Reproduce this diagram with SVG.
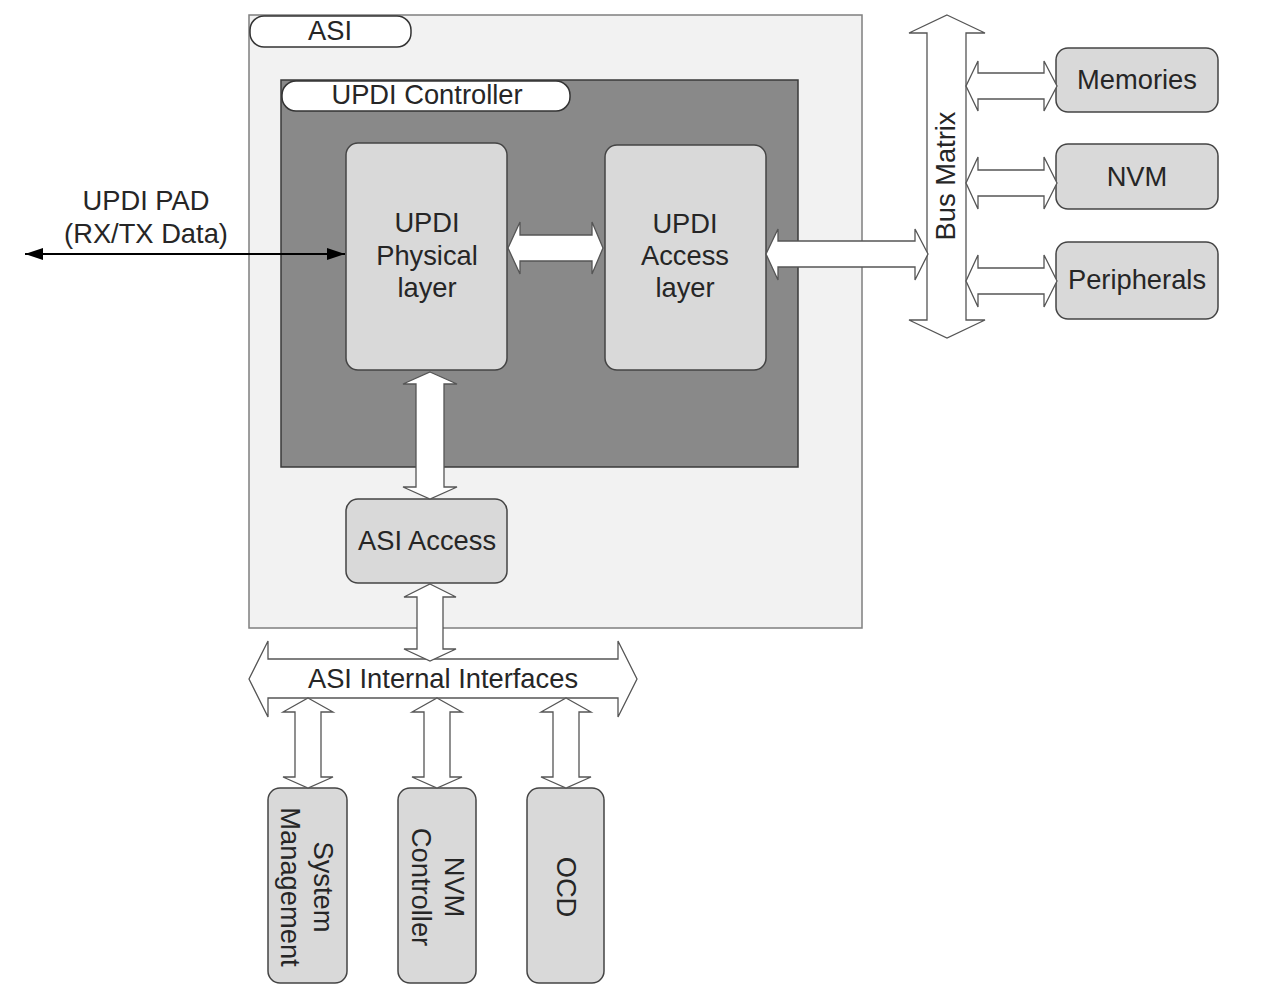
<svg xmlns="http://www.w3.org/2000/svg" width="1280" height="1004" viewBox="0 0 1280 1004">
<style>
  text { font-family: "Liberation Sans", Arial, sans-serif; font-size: 27.3px; fill: #262626; }
  .c { text-anchor: middle; }
  .box { fill: #d9d9d9; stroke: #444; stroke-width: 1.5; }
  .pill { fill: #fff; stroke: #333; stroke-width: 1.5; }
  .fat { fill: #fff; stroke: #555; stroke-width: 1.3; stroke-linejoin: miter; }
</style>
<defs>
  <marker id="ah" markerWidth="18" markerHeight="12" refX="18" refY="6" orient="auto-start-reverse" markerUnits="userSpaceOnUse">
    <path d="M0,0 L18,6 L0,12 Z" fill="#000"/>
  </marker>
</defs>
<rect width="1280" height="1004" fill="#fff"/>

<g id="asi">
  <rect x="249" y="15" width="613" height="613" fill="#f2f2f2" stroke="#7f7f7f" stroke-width="1.5"/>
  <rect class="pill" x="250" y="16" width="161" height="31" rx="14"/>
  <text class="c" x="330" y="40">ASI</text>
</g>

<g id="updi-controller">
  <rect x="281" y="80" width="517" height="387" fill="#898989" stroke="#3a3a3a" stroke-width="1.5"/>
  <rect class="pill" x="282" y="81" width="288" height="30" rx="14"/>
  <text class="c" x="427" y="104">UPDI Controller</text>
</g>

<g id="updi-physical">
  <rect class="box" x="346" y="143" width="161" height="227" rx="12"/>
  <text class="c" x="427"><tspan x="427" y="232">UPDI</tspan><tspan x="427" y="265">Physical</tspan><tspan x="427" y="297">layer</tspan></text>
</g>

<g id="updi-access">
  <rect class="box" x="605" y="145" width="161" height="225" rx="12"/>
  <text class="c" x="685"><tspan x="685" y="233">UPDI</tspan><tspan x="685" y="265">Access</tspan><tspan x="685" y="297">layer</tspan></text>
</g>

<g id="asi-access">
  <rect class="box" x="346" y="499" width="161" height="84" rx="12"/>
  <text class="c" x="427" y="550">ASI Access</text>
</g>

<g id="memories">
  <rect class="box" x="1056" y="48" width="162" height="64" rx="12"/>
  <text class="c" x="1137" y="89">Memories</text>
</g>
<g id="nvm">
  <rect class="box" x="1056" y="144" width="162" height="65" rx="12"/>
  <text class="c" x="1137" y="186">NVM</text>
</g>
<g id="peripherals">
  <rect class="box" x="1056" y="242" width="162" height="77" rx="12"/>
  <text class="c" x="1137" y="289">Peripherals</text>
</g>

<g id="system-management">
  <rect class="box" x="268" y="788" width="79" height="195" rx="12"/>
  <text class="c" transform="translate(307.5,887) rotate(90)"><tspan x="0" y="-6">System</tspan><tspan x="0" y="27">Management</tspan></text>
</g>
<g id="nvm-controller">
  <rect class="box" x="398" y="788" width="78" height="195" rx="12"/>
  <text class="c" transform="translate(437,887) rotate(90)"><tspan x="0" y="-8">NVM</tspan><tspan x="0" y="25">Controller</tspan></text>
</g>
<g id="ocd">
  <rect class="box" x="527" y="788" width="77" height="195" rx="12"/>
  <text class="c" transform="translate(565.5,887) rotate(90)" x="0" y="9">OCD</text>
</g>

<g id="bus-matrix">
  <path class="fat" d="M947,15 L985,33 L966,33 L966,320 L985,320 L947,338 L909,320 L927,320 L927,33 L909,33 Z"/>
  <text class="c" transform="translate(955,176) rotate(-90)" x="0" y="0">Bus Matrix</text>
</g>

<g id="asi-internal-interfaces">
  <path class="fat" d="M249,679 L268,641 L268,659 L618,659 L618,641 L637,679 L618,717 L618,698 L268,698 L268,717 Z"/>
  <text class="c" x="443" y="688">ASI Internal Interfaces</text>
</g>

<g id="connectors">
  <path class="fat" d="M508,248 L520,222 L520,235 L592,235 L592,222 L603,248 L592,274 L592,261 L520,261 L520,274 Z"/>
  <path class="fat" d="M766,254 L778,229 L778,241 L915,241 L915,229 L928,254 L915,280 L915,267 L778,267 L778,280 Z"/>
  <path class="fat" d="M966,86 L978,61 L978,73 L1044,73 L1044,61 L1057,86 L1044,111 L1044,99 L978,99 L978,111 Z"/>
  <path class="fat" d="M966,183 L978,157 L978,170 L1044,170 L1044,157 L1057,183 L1044,209 L1044,196 L978,196 L978,209 Z"/>
  <path class="fat" d="M966,281 L978,255 L978,268 L1044,268 L1044,255 L1057,281 L1044,307 L1044,294 L978,294 L978,307 Z"/>
  <path class="fat" d="M430,372 L457,384 L444,384 L444,487 L457,487 L430,499 L403,487 L416,487 L416,384 L403,384 Z"/>
  <path class="fat" d="M430,584 L456,597 L443,597 L443,649 L456,649 L430,661 L404,649 L417,649 L417,597 L404,597 Z"/>
  <path class="fat" d="M308,698 L333,712 L321,712 L321,777 L333,777 L308,788 L283,777 L295,777 L295,712 L283,712 Z"/>
  <path class="fat" d="M437,698 L462,712 L450,712 L450,777 L462,777 L437,788 L412,777 L424,777 L424,712 L412,712 Z"/>
  <path class="fat" d="M566,698 L591,712 L579,712 L579,777 L591,777 L566,788 L541,777 L553,777 L553,712 L541,712 Z"/>
  <line x1="25" y1="254" x2="345" y2="254" stroke="#000" stroke-width="2" marker-start="url(#ah)" marker-end="url(#ah)"/>
  <text class="c" x="146" y="210">UPDI PAD</text>
  <text class="c" x="146" y="243">(RX/TX Data)</text>
</g>
</svg>
